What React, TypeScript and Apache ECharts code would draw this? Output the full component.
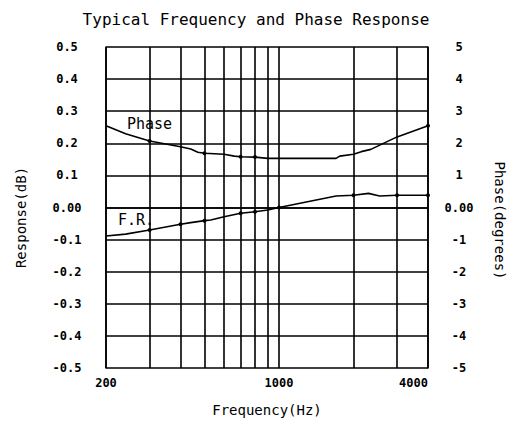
import React, { useEffect, useRef } from "react";
import * as echarts from "echarts";

const phaseFreq = [200, 240, 300, 400, 440, 470, 500, 600, 660, 700, 800, 900, 1000, 1700, 1760, 2000, 2150, 2350, 3000, 4000];
const phaseDeg = [2.55, 2.3, 2.07, 1.89, 1.82, 1.72, 1.69, 1.66, 1.6, 1.58, 1.57, 1.53, 1.53, 1.53, 1.6, 1.66, 1.74, 1.81, 2.2, 2.55];
const phaseDots = [300, 500, 700, 800, 4000];

const frFreq = [200, 240, 300, 400, 440, 500, 530, 600, 700, 800, 900, 1000, 1700, 2000, 2300, 2550, 3000, 4000];
const frDb = [-0.089, -0.083, -0.07, -0.052, -0.047, -0.041, -0.039, -0.029, -0.018, -0.013, -0.008, 0.0, 0.036, 0.038, 0.044, 0.036, 0.038, 0.038];
const frDots = [300, 400, 500, 700, 800, 1000, 2000, 3000, 4000];

const gridFreqs = [200, 300, 400, 500, 600, 700, 800, 900, 1000, 2000, 3000, 4000];
const labelFreqs = [200, 1000, 4000];

const FONT = "DejaVu Sans Mono";

function mkData(freq: number[], vals: number[], dots: number[]) {
  return freq.map((f, i) => ({
    value: [Math.log10(f), vals[i]],
    symbol: dots.includes(f) ? "circle" : "none",
  }));
}

export default function App() {
  const ref = useRef<HTMLDivElement>(null);
  useEffect(() => {
    if (!ref.current) return;
    const chart = echarts.init(ref.current, null, { renderer: "svg" });
    chart.setOption({
      animation: false,
      backgroundColor: "#ffffff",
      title: {
        text: "Typical Frequency and Phase Response",
        left: "center",
        top: 6,
        textStyle: { fontFamily: FONT, fontSize: 16, fontWeight: "normal", color: "#000" },
      },
      grid: { left: 106, right: 84, top: 47, bottom: 53, containLabel: false, outerBoundsMode: "none" },
      xAxis: {
        type: "value",
        min: Math.log10(200),
        max: Math.log10(4000),
        name: "Frequency(Hz)",
        nameLocation: "middle",
        nameGap: 35,
        nameMoveOverlap: false,
        nameTextStyle: { fontFamily: FONT, fontSize: 14, color: "#000" },
        axisLine: { show: true, lineStyle: { color: "#000", width: 1.5 } },
        axisTick: { show: false, customValues: gridFreqs.map((f) => Math.log10(f)) },
        axisLabel: {
          customValues: labelFreqs.map((f) => Math.log10(f)),
          formatter: (v: number) => String(Math.round(Math.pow(10, v))),
          fontFamily: FONT,
          fontSize: 12,
          fontWeight: "bold",
          color: "#000",
          margin: 9,
          alignMaxLabel: "right",
        },
        splitLine: { show: true, lineStyle: { color: "#000", width: 1.6 } },
      },
      yAxis: [
        {
          type: "value",
          min: -0.5,
          max: 0.5,
          interval: 0.1,
          name: "Response(dB)",
          nameLocation: "middle",
          nameGap: 78,
          nameMoveOverlap: false,
          nameTextStyle: { fontFamily: FONT, fontSize: 14, color: "#000", padding: [0, 20, 0, 0] },
          axisLine: { show: true, lineStyle: { color: "#000", width: 1.5 } },
          axisTick: { show: false },
          axisLabel: {
            formatter: (v: number) => (Math.abs(v) < 1e-9 ? "0.00" : v.toFixed(1)),
            fontFamily: FONT,
            fontSize: 12,
            fontWeight: "bold",
            color: "#000",
            align: "center",
            margin: 39,
          },
          splitLine: { show: true, lineStyle: { color: "#000", width: 1.6 } },
        },
        {
          type: "value",
          min: -5,
          max: 5,
          interval: 1,
          name: "Phase(degrees)",
          nameLocation: "middle",
          nameGap: 65,
          nameRotate: -90,
          nameMoveOverlap: false,
          nameTextStyle: { fontFamily: FONT, fontSize: 14, color: "#000", padding: [0, 0, 0, 26] },
          axisLine: { show: true, lineStyle: { color: "#000", width: 1.5 } },
          axisTick: { show: false },
          axisLabel: {
            formatter: (v: number) => (Math.abs(v) < 1e-9 ? "0.00" : String(v)),
            fontFamily: FONT,
            fontSize: 12,
            fontWeight: "bold",
            color: "#000",
            align: "center",
            margin: 31,
          },
          splitLine: { show: false },
        },
      ],
      graphic: [
        { type: "text", left: 127, top: 116, style: { text: "Phase", fontFamily: FONT, fontSize: 15, fill: "#000" } },
        { type: "text", left: 118, top: 212, style: { text: "F.R.", fontFamily: FONT, fontSize: 15, fill: "#000" } },
      ],
      series: [
        {
          type: "line",
          name: "Phase",
          yAxisIndex: 1,
          data: mkData(phaseFreq, phaseDeg, phaseDots),
          symbolSize: 4,
          itemStyle: { color: "#000" },
          lineStyle: { color: "#000", width: 1.6 },
        },
        {
          type: "line",
          name: "F.R.",
          yAxisIndex: 0,
          data: mkData(frFreq, frDb, frDots),
          symbolSize: 4,
          itemStyle: { color: "#000" },
          lineStyle: { color: "#000", width: 1.6 },
        },
      ],
    });
    return () => chart.dispose();
  }, []);
  return (
    <div
      ref={ref}
      style={{ position: "fixed", left: 0, top: 0, width: 512, height: 421 }}
    />
  );
}
